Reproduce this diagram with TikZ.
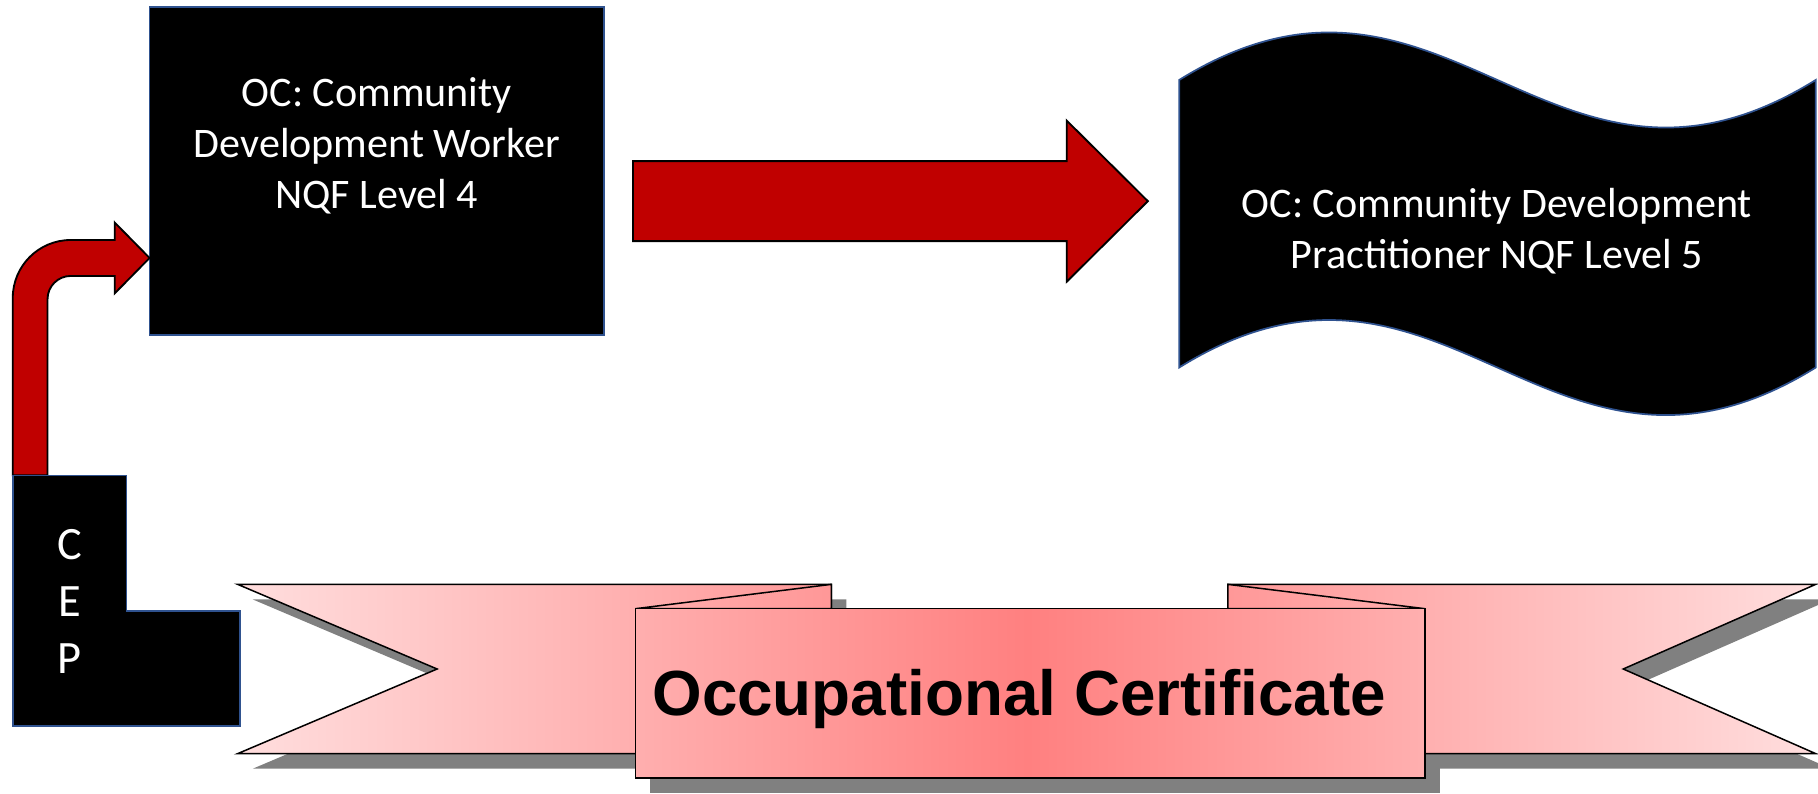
\documentclass[tikz,border=0pt]{standalone}
\usepackage{fontspec}
\setmainfont{Carlito}
\newfontfamily\ribfont{Liberation Sans}
\definecolor{bordblue}{RGB}{47,82,143}
\definecolor{arrred}{RGB}{192,0,0}
\definecolor{pinkL}{RGB}{255,222,222}
\definecolor{pinkD}{RGB}{255,128,128}
\definecolor{shadowgray}{RGB}{128,128,128}
\tikzset{
  blackbox/.style={fill=black, draw=bordblue, line width=1.5pt, line join=miter},
  redarrow/.style={fill=arrred, draw=black, line width=1.6pt, line join=miter},
  wtext/.style={text=white, font=\fontsize{36.3}{44}\selectfont, align=center, inner sep=0pt},
  ribline/.style={draw=black, line width=1.3pt, line join=miter},
  ribshadow/.style={fill=shadowgray, shift={(13,13)}},
}
\newcommand\ribpiece[1]{%
  \begin{scope}\clip #1;
    \shade[left color=pinkL, right color=pinkL, middle color=pinkD] (205,500) rectangle (1567,675);
  \end{scope}
  \path[ribline] #1;}
\begin{document}
\begin{tikzpicture}[x=1pt,y=-1pt]
\useasboundingbox (0,0) rectangle (1568,684);
\fill[white] (0,0) rectangle (1568,684);

% box 1
\path[blackbox] (129,6) rectangle (521,289);
\node[wtext] (oc4) at (325,126) {OC: Community\\Development Worker\\NQF Level 4};

% big arrow
\path[redarrow] (546,139) -- (920,139) -- (920,104) -- (990,173.5) -- (920,243) -- (920,208) -- (546,208) -- cycle;

% wave
\path[blackbox] (1017,69) .. controls (1245.75,-73) and (1337.25,211) .. (1566,69)
  -- (1566,317) .. controls (1337.25,459) and (1245.75,175) .. (1017,317) -- cycle;
\node[wtext] (oc5) at (1291,199) {OC: Community Development\\Practitioner NQF Level 5};

% bent arrow
\path[redarrow] (11,410) -- (11,257) .. controls (11,229.4) and (33.4,207) .. (61,207)
  -- (99,207) -- (99,192) -- (129,222.5) -- (99,253) -- (99,238) -- (61,238)
  .. controls (49.95,238) and (41,246.95) .. (41,258) -- (41,410) -- cycle;

% CEP L-shape
\path[blackbox] (11,410) -- (109,410) -- (109,527) -- (207,527) -- (207,626) -- (11,626) -- cycle;
\node[wtext, font=\fontsize{40}{49}\selectfont] (cep) at (60,519) {C\\E\\P};

% ribbon shadows
\fill[ribshadow] (205,504) -- (717,504) -- (717,650) -- (205,650) -- (377,577) -- cycle;
\fill[ribshadow] (1059,504) -- (1566,504) -- (1400,577) -- (1566,650) -- (1059,650) -- cycle;
\fill[ribshadow] (548,525) rectangle (1229,671);

% ribbon bands
\ribpiece{(205,504) -- (717,504) -- (717,650) -- (205,650) -- (377,577) -- cycle}
\ribpiece{(1059,504) -- (1566,504) -- (1400,577) -- (1566,650) -- (1059,650) -- cycle}
\ribpiece{(548,525) -- (717,504) -- (717,525) -- cycle}
\ribpiece{(1059,504) -- (1229,525) -- (1059,525) -- cycle}
\ribpiece{(548,525) -- (1229,525) -- (1229,671) -- (548,671) -- cycle}
\node[font=\ribfont\bfseries\fontsize{55}{60}\selectfont, inner sep=0pt, anchor=base] (occ) at (879,617) {Occupational Certificate};
\end{tikzpicture}
\end{document}
